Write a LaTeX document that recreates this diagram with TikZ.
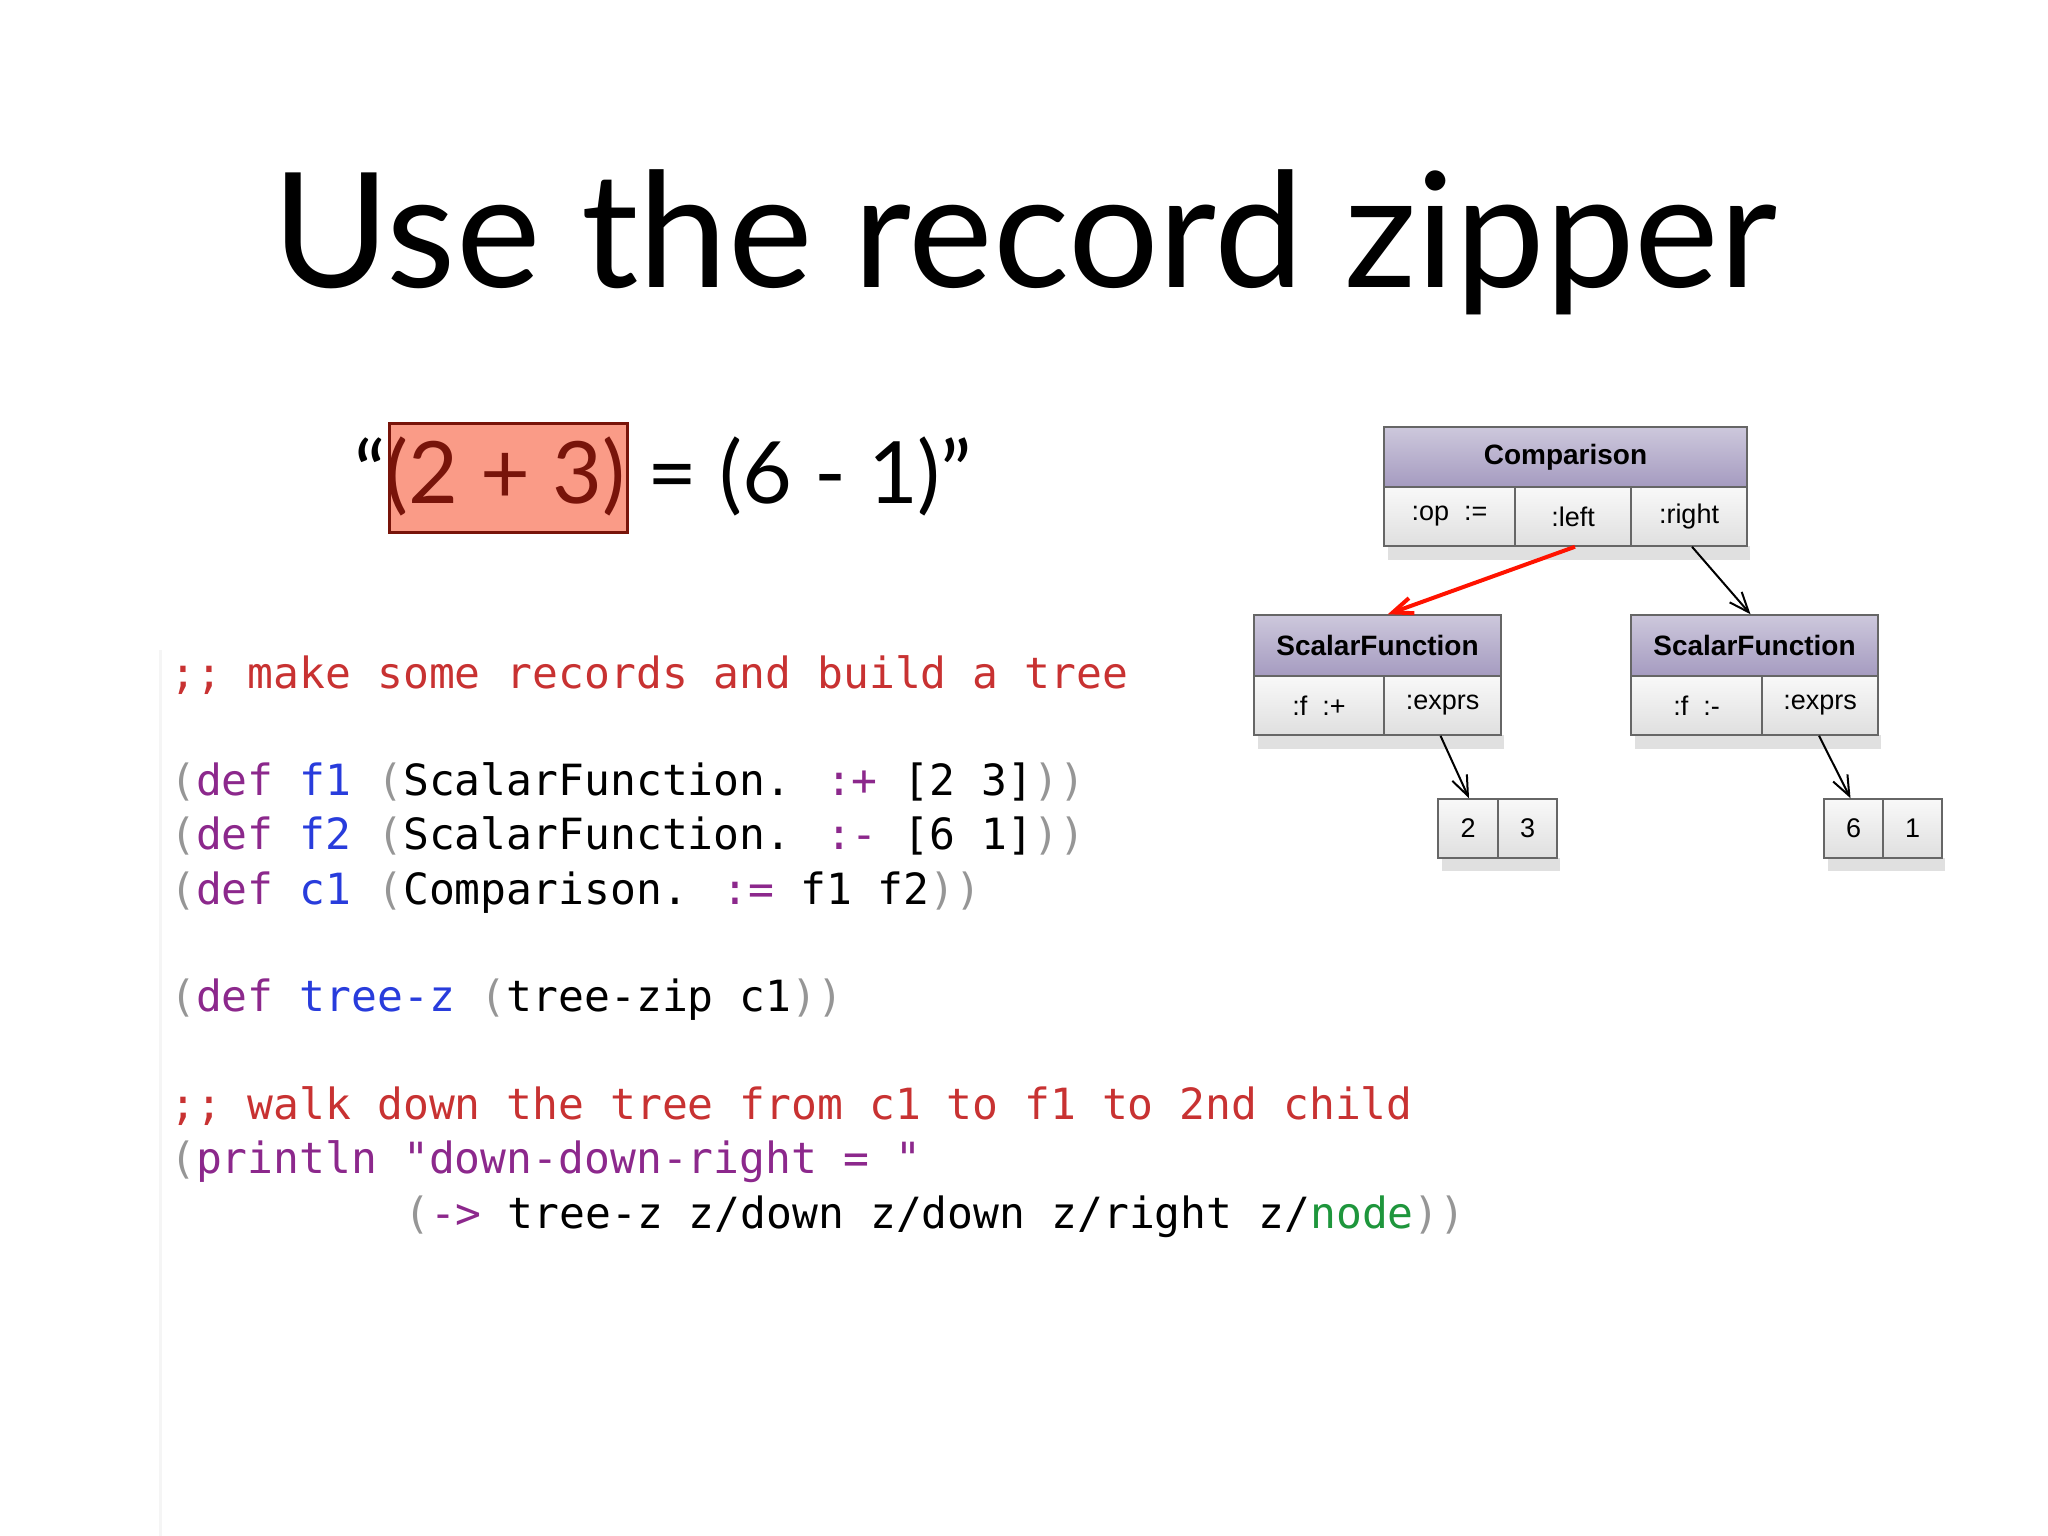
\documentclass[tikz,border=0pt]{standalone}
\usepackage{fontspec}
\setmainfont{Lato}
\newfontfamily\hv{Liberation Sans}
\newfontfamily\cm{DejaVu Sans Mono}
\usetikzlibrary{arrows.meta}
\definecolor{cmt}{RGB}{200,50,50}
\definecolor{kw}{RGB}{140,40,140}
\definecolor{nm}{RGB}{40,60,220}
\definecolor{pa}{RGB}{150,150,150}
\definecolor{gr}{RGB}{30,150,60}
\definecolor{hdtop}{RGB}{205,200,220}
\definecolor{hdbot}{RGB}{165,155,192}
\definecolor{boxred}{RGB}{250,155,135}
\definecolor{darkred}{RGB}{120,20,10}
\tikzset{
 hdr/.style={draw=gray!80!black,line width=1.5pt,top color=hdtop,bottom color=hdbot,inner sep=0,font=\hv\bfseries\fontsize{28}{30}\selectfont},
 cell/.style={draw=gray!80!black,line width=1.5pt,top color=gray!5,bottom color=gray!25,inner sep=0,font=\hv\fontsize{27}{29}\selectfont},
 code/.style={anchor=base west,inner sep=0,font=\cm\fontsize{43}{50}\selectfont},
 arr/.style={-{Straight Barb[length=20pt,width=16pt]},line width=2pt},
 shd/.style={black,opacity=.12},
}
\begin{document}
\begin{tikzpicture}[x=1pt,y=-1pt]
\useasboundingbox (0,0) rectangle (2048,1536);
\draw[gray!8,line width=3pt] (160,650) -- (160,1536);
\node[anchor=base,inner sep=0,font=\fontsize{160}{165}\selectfont] (title) at (1025,287) {Use the record zipper};
% equation
\node[draw=darkred,line width=3pt,fill=boxred,minimum width=238pt,minimum height=109pt,inner sep=0] (hl) at (508,478) {};
\node[anchor=base west,inner sep=0,font=\fontsize{86}{90}\selectfont] (eq) at (354,503) {``\textcolor{darkred}{(2 + 3)} = (6 - 1)''};
% code
\node[code] (l1) at (170,688) {\textcolor{cmt}{;; make some records and build a tree}};
\node[code] (l2) at (170,795) {\textcolor{pa}{(}\textcolor{kw}{def} \textcolor{nm}{f1} \textcolor{pa}{(}ScalarFunction. \textcolor{kw}{:+} [2 3]\textcolor{pa}{))}};
\node[code] (l3) at (170,849) {\textcolor{pa}{(}\textcolor{kw}{def} \textcolor{nm}{f2} \textcolor{pa}{(}ScalarFunction. \textcolor{kw}{:-} [6 1]\textcolor{pa}{))}};
\node[code] (l4) at (170,904) {\textcolor{pa}{(}\textcolor{kw}{def} \textcolor{nm}{c1} \textcolor{pa}{(}Comparison. \textcolor{kw}{:=} f1 f2\textcolor{pa}{))}};
\node[code] (l5) at (170,1011) {\textcolor{pa}{(}\textcolor{kw}{def} \textcolor{nm}{tree-z} \textcolor{pa}{(}tree-zip c1\textcolor{pa}{))}};
\node[code] (l6) at (170,1119) {\textcolor{cmt}{;; walk down the tree from c1 to f1 to 2nd child}};
\node[code] (l7) at (170,1173) {\textcolor{pa}{(}\textcolor{kw}{println} \textcolor{kw}{"down-down-right = "}};
\node[code] (l8) at (404,1228) {\textcolor{pa}{(}\textcolor{kw}{->} tree-z z/down z/down z/right z/\textcolor{gr}{node}\textcolor{pa}{))}};
% tree: Comparison
\fill[shd] (1388,546) rectangle (1750,560);
\node[hdr,minimum width=363pt,minimum height=60pt] (cH) at (1565.5,457) {Comparison};
\node[cell,minimum width=131pt,minimum height=59pt] (cop) at (1449.5,516.5) {:op~~:=};
\node[cell,minimum width=116pt,minimum height=59pt] (cleft) at (1573,516.5) {:left};
\node[cell,minimum width=116pt,minimum height=59pt] (cright) at (1689,516.5) {:right};
% SF left
\fill[shd] (1258,735) rectangle (1504,749);
\node[hdr,minimum width=247pt,minimum height=61pt] (aH) at (1377.5,645.5) {ScalarFunction};
\node[cell,minimum width=130pt,minimum height=59pt] (af) at (1319,705.5) {:f~~:+};
\node[cell,minimum width=117pt,minimum height=59pt] (ae) at (1442.5,705.5) {:exprs};
% SF right
\fill[shd] (1635,735) rectangle (1881,749);
\node[hdr,minimum width=247pt,minimum height=61pt] (bH) at (1754.5,645.5) {ScalarFunction};
\node[cell,minimum width=131pt,minimum height=59pt] (bf) at (1696.5,705.5) {:f~~:-};
\node[cell,minimum width=116pt,minimum height=59pt] (be) at (1820,705.5) {:exprs};
% leaves
\fill[shd] (1442,858) rectangle (1560,871);
\node[cell,minimum width=60pt,minimum height=59pt] (n2) at (1468,828.5) {2};
\node[cell,minimum width=59pt,minimum height=59pt] (n3) at (1527.5,828.5) {3};
\fill[shd] (1828,858) rectangle (1945,871);
\node[cell,minimum width=59pt,minimum height=59pt] (n6) at (1853.5,828.5) {6};
\node[cell,minimum width=59pt,minimum height=59pt] (n1) at (1912.5,828.5) {1};
% arrows
\draw[arr,red!85!orange,line width=4pt] ([xshift=2pt]cleft.south) -- ([xshift=-114pt]aH.north east);
\draw[arr] ([xshift=3pt]cright.south) -- ([xshift=-4pt]bH.north);
\draw[arr] ([xshift=-2pt]ae.south) -- ([xshift=1pt]n2.north);
\draw[arr] ([xshift=-1pt]be.south) -- ([xshift=-3pt]n6.north);
\end{tikzpicture}
\end{document}
